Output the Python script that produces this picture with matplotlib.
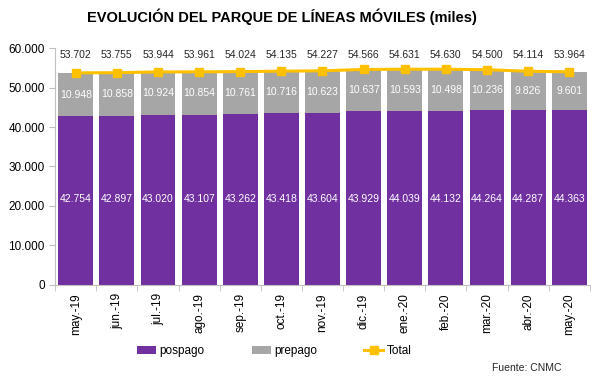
import numpy as np
import matplotlib.pyplot as plt

plt.rcParams['font.family'] = ['Liberation Sans', 'DejaVu Sans']

meses = ['may.-19', 'jun.-19', 'jul.-19', 'ago.-19', 'sep.-19', 'oct.-19', 'nov.-19',
         'dic.-19', 'ene.-20', 'feb.-20', 'mar.-20', 'abr.-20', 'may.-20']
pospago = [42754, 42897, 43020, 43107, 43262, 43418, 43604, 43929, 44039, 44132, 44264, 44287, 44363]
prepago = [10948, 10858, 10924, 10854, 10761, 10716, 10623, 10637, 10593, 10498, 10236, 9826, 9601]
total = [53702, 53755, 53944, 53961, 54024, 54135, 54227, 54566, 54631, 54630, 54500, 54114, 53964]


def fmt(v):
    return f'{v:,.0f}'.replace(',', '.')


fig = plt.figure(figsize=(6, 3.81), dpi=100)
ax = fig.add_axes([0.092, 0.252, 0.891, 0.622])

x = np.arange(len(meses))
c_pos = '#7030A0'
c_pre = '#A6A6A6'
c_tot = '#FFC000'

b1 = ax.bar(x, pospago, width=0.85, color=c_pos, label='pospago')
b2 = ax.bar(x, prepago, width=0.85, bottom=pospago, color=c_pre, label='prepago')
l1, = ax.plot(x, total, color=c_tot, lw=2.2, marker='s', ms=6, label='Total')

for i in range(len(meses)):
    ax.text(x[i], 21700, fmt(pospago[i]), ha='center', va='center', color='white', fontsize=7.5)
    ax.text(x[i], pospago[i] + prepago[i] / 2, fmt(prepago[i]), ha='center', va='center',
            color='white', fontsize=7.5)
    ax.text(x[i], 58200, fmt(total[i]), ha='center', va='center', color='#262626', fontsize=7.5)

ax.set_xlim(-0.5, len(meses) - 0.5)
ax.set_ylim(0, 60000)
ax.set_yticks(range(0, 60001, 10000))
ax.set_yticklabels([fmt(v) for v in range(0, 60001, 10000)], fontsize=8.5)
ax.set_xticks(x)
ax.set_xticklabels(meses, rotation=90, fontsize=8.5)
ax.set_xticks(np.arange(-0.5, len(meses)), minor=True)
ax.tick_params(axis='x', which='major', length=0, pad=6)
ax.tick_params(axis='x', which='minor', length=4, color='#BFBFBF')
ax.tick_params(axis='y', length=4, color='#BFBFBF')
for s in ['top', 'right']:
    ax.spines[s].set_visible(False)
for s in ['left', 'bottom']:
    ax.spines[s].set_color('#BFBFBF')

fig.text(0.47, 0.955, 'EVOLUCIÓN DEL PARQUE DE LÍNEAS MÓVILES (miles)', ha='center', va='center',
         fontsize=10.5, fontweight='bold')

ax.legend([b1, b2, l1], ['pospago', 'prepago', 'Total'], loc='upper center',
          bbox_to_anchor=(0.41, -0.21), ncol=3, frameon=False, fontsize=8.5,
          handlelength=1.6, handleheight=0.6, handletextpad=0.3, columnspacing=4)
fig.text(0.935, 0.035, 'Fuente: CNMC', ha='right', va='center', fontsize=7.5, color='#262626')

fig.savefig('out.png', dpi=100)
